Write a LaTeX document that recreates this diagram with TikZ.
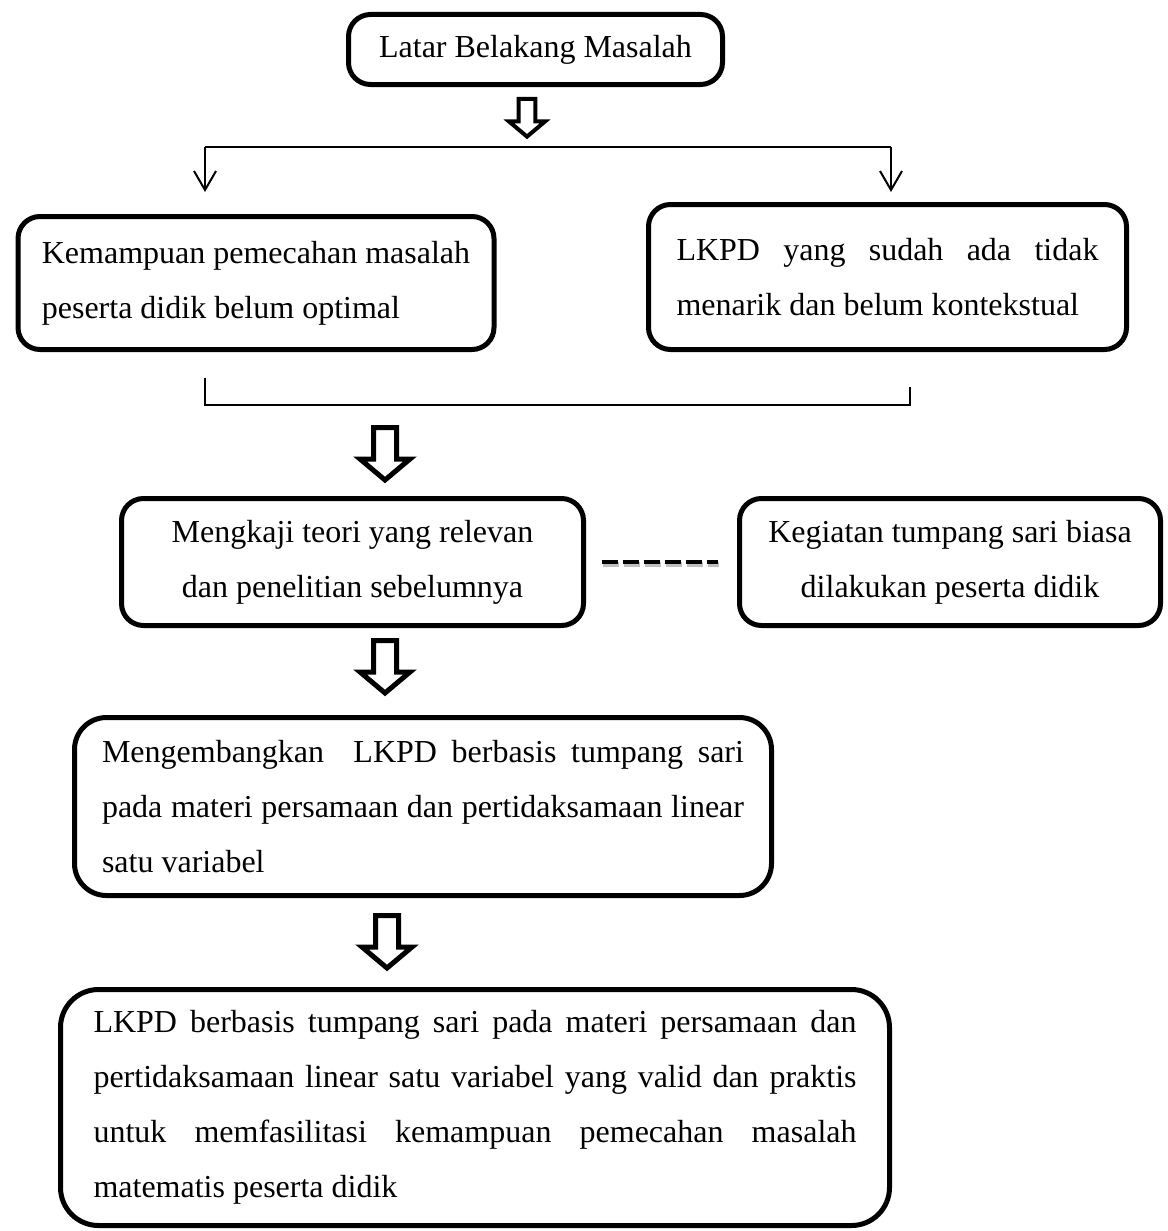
\documentclass[tikz,border=0pt]{standalone}
\usepackage{fontspec}
\setmainfont{Liberation Serif}
\usetikzlibrary{arrows.meta}
\tolerance=10000
\hyphenpenalty=10000

\tikzset{
  pics/hollow arrow/.style={code={
    \draw[line width=#1, fill=white]
      (-11.5,2.5) -- (11.5,2.5) -- (11.5,34) -- (25,34) -- (0,55) -- (-25,34) -- (-11.5,34) -- cycle;
  }}
}

\begin{document}
\begin{tikzpicture}[x=1pt, y=-1pt,
    box/.style={draw, line width=5pt, rounded corners=22pt, inner sep=0pt, font=\fontsize{32}{55}\selectfont},
    link/.style={line width=2pt},
    tip/.style={-{Straight Barb[length=19pt, width=22pt]}},
    dashlink/.style={line width=4.5pt, dash pattern=on 16.5pt off 4.5pt, shorten <=15.5pt, shorten >=19.5pt}]
    \useasboundingbox (0,0) rectangle (1167,1231);

    % boxes
    \node[box, minimum width=374pt, minimum height=70pt] (latar) at (535.5,49.5) {Latar Belakang Masalah};
    \node[box, minimum width=476pt, minimum height=133pt, align=left] (kemampuan) at (256,283)
        {Kemampuan pemecahan masalah\\ peserta didik belum optimal};
    \node[box, minimum width=478pt, minimum height=145pt, text width=422pt, align=justify] (lkpd) at (887.5,277)
        {LKPD yang sudah ada tidak\linebreak menarik dan belum kontekstual};
    \node[box, minimum width=462pt, minimum height=127pt, align=center] (mengkaji) at (352.5,562)
        {Mengkaji teori yang relevan\\ dan penelitian sebelumnya};
    \node[box, minimum width=421pt, minimum height=127pt, align=center] (kegiatan) at (950,562)
        {Kegiatan tumpang sari biasa\\ dilakukan peserta didik};
    \node[box, rounded corners=32pt, minimum width=697pt, minimum height=178pt, text width=642pt, align=justify] (mengembangkan) at (423,806.5)
        {Mengembangkan\ \ LKPD berbasis tumpang sari\linebreak pada materi persamaan dan pertidaksamaan linear\linebreak satu variabel};
    \node[box, rounded corners=38pt, minimum width=829pt, minimum height=236pt, text width=763pt, align=justify] (hasil) at (475,1107.5)
        {LKPD berbasis tumpang sari pada materi persamaan dan\linebreak pertidaksamaan linear satu variabel yang valid dan praktis\linebreak untuk memfasilitasi kemampuan pemecahan masalah\linebreak matematis peserta didik};

    % fork
    \coordinate (forkl) at (205,147);
    \coordinate (forkr) at (891,147);
    \draw[link] (forkl) -- (forkr);
    \draw[link, tip, shorten >=22pt] (forkl) -- (forkl |- kemampuan.north);
    \draw[link, tip, shorten >=10pt] (forkr) -- (forkr |- lkpd.north);

    % join
    \coordinate (joinl) at (205,378);
    \coordinate (joinr) at (910,387);
    \draw[link] (joinl) -- (205,405) -- (910,405) -- (joinr);

    % block arrows
    \pic[scale=0.72] at (527,97) {hollow arrow=4pt};
    \pic at (385,425) {hollow arrow=5pt};
    \pic at (385,638) {hollow arrow=5pt};
    \pic at (387,913) {hollow arrow=5pt};

    % dashed link
    \draw[dashlink, draw=black!25, transform canvas={shift={(1pt,-2.5pt)}}] (mengkaji) -- (kegiatan);
    \draw[dashlink] (mengkaji) -- (kegiatan);
\end{tikzpicture}
\end{document}
